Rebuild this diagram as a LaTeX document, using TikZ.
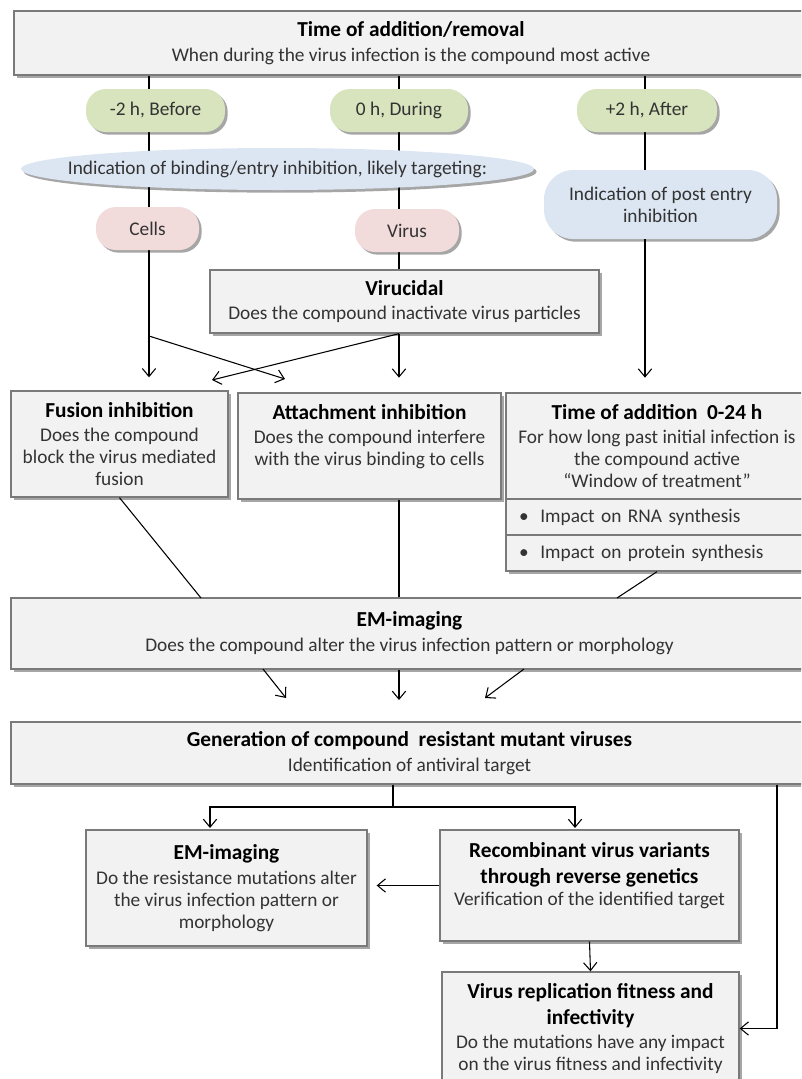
\documentclass[tikz,border=0pt]{standalone}
\usepackage{fontspec}
\setmainfont{Carlito}
\usetikzlibrary{shapes.geometric,shadows,arrows.meta,backgrounds}
\definecolor{boxfill}{HTML}{F2F2F2}
\definecolor{boxline}{HTML}{7A7A7A}
\definecolor{pillgreen}{HTML}{D7E4BD}
\definecolor{pillblue}{HTML}{DCE6F2}
\definecolor{pillred}{HTML}{F2DCDB}
\newcommand{\px}{0.75pt}
\newcommand{\ttl}[1]{{\fontsize{16}{18}\selectfont\bfseries\color{black}#1}}
\begin{document}
\begin{tikzpicture}[x=0.75pt, y=-0.75pt,
  every node/.style={font=\fontsize{14.5}{16.5}\selectfont, text=black!80, align=center, inner sep=0pt},
  shade box/.style={drop shadow={shadow xshift=2pt, shadow yshift=-2pt, opacity=.35, fill=black}},
  box/.style={rectangle, draw=boxline, fill=boxfill, line width=1pt, shade box},
  pill/.style={rectangle, rounded corners=15pt, minimum height=43*\px, shade box},
  link/.style={draw=black, line width=0.8pt},
  arr/.style={link, -{Straight Barb[length=6pt,width=10pt]}}]
\useasboundingbox (0,0) rectangle (801,1079);
\clip (0,0) rectangle (801,1079);
% time of addition
\node[box, minimum width=794*\px, minimum height=64*\px] (top) at (411,43) {\ttl{Time of addition/removal}\\[2pt] When during the virus infection is the compound most active};
\node[pill, fill=pillgreen, minimum width=139*\px] (before) at (155.5,110.5) {-2 h, Before};
\node[pill, fill=pillgreen, minimum width=138*\px] (during) at (399,110.5) {0 h, During};
\node[pill, fill=pillgreen, minimum width=140*\px] (after) at (647,110.5) {+2 h, After};
\node[ellipse, fill=pillblue, shade box, inner xsep=-30pt, minimum width=513*\px, minimum height=42*\px] (bind) at (277.5,169) {Indication of binding/entry inhibition, likely targeting:};
\node[pill, fill=pillblue, rounded corners=22pt, minimum width=233*\px, minimum height=69*\px] (post) at (660.5,204.5) {Indication of post entry\\inhibition};
\node[pill, fill=pillred, minimum width=103*\px] (cells) at (147.5,228.5) {Cells};
\node[pill, fill=pillred, minimum width=104*\px] (virus) at (407,230.5) {Virus};
\node[box, minimum width=389*\px, minimum height=63*\px] (virucidal) at (404.5,301.5) {\ttl{Virucidal}\\[2pt] Does the compound inactivate virus particles};
% mode of action
\node[box, minimum width=217*\px, minimum height=106*\px] (fusion) at (119.5,444) {\ttl{Fusion inhibition}\\[2pt] Does the compound\\block the virus mediated\\fusion};
\node[box, minimum width=263*\px, minimum height=106*\px] (attach) at (369.5,446) {\ttl{Attachment inhibition}\\[2pt] Does the compound interfere\\with the virus binding to cells\\ \mbox{}};
\node[box, minimum width=302*\px, minimum height=106*\px] (timeadd) at (657,446) {\ttl{Time of addition\ \ 0-24 h}\\[2pt] For how long past initial infection is\\the compound active\\``Window of treatment''};
\node[box, text width=207pt, inner xsep=9.75pt, minimum height=36*\px, align=left] (rna) at (657,517) {\makebox[16pt][l]{\textbullet}Impact on RNA synthesis};
\node[box, text width=207pt, inner xsep=9.75pt, minimum height=36*\px, align=left] (protein) at (657,553) {\makebox[16pt][l]{\textbullet}Impact on protein synthesis};
\node[box, minimum width=797*\px, minimum height=71*\px] (em) at (409.5,633.5) {\ttl{EM-imaging}\\[2pt] Does the compound alter the virus infection pattern or morphology};
% resistance
\node[box, minimum width=797*\px, minimum height=62*\px] (gen) at (409.5,753) {\ttl{Generation of compound\ \ resistant mutant viruses}\\[2pt] Identification of antiviral target};
\node[box, minimum width=281*\px, minimum height=116*\px] (emres) at (226.5,888) {\ttl{EM-imaging}\\[2pt] Do the resistance mutations alter\\the virus infection pattern or\\morphology};
\node[box, minimum width=299*\px, minimum height=111*\px] (recomb) at (589.5,885.5) {\ttl{Recombinant virus variants}\\[3pt] \ttl{through reverse genetics}\\Verification of the identified target\\ \mbox{}};
\node[box, minimum width=297*\px, minimum height=113*\px] (fitness) at (590.5,1028.5) {\ttl{Virus replication fitness and}\\[3pt] \ttl{infectivity}\\[1pt] Do the mutations have any impact\\on the virus fitness and infectivity};
% columns and free ends
\coordinate (cL) at (149,0);
\coordinate (cM) at (399,0);
\coordinate (cR) at (645,0);
\coordinate (cS) at (393,0);
\coordinate (cE) at (210,0);
\coordinate (cV) at (575,0);
\coordinate (cF) at (777,0);
\coordinate (fork) at (0,807);
\coordinate (splitL) at (149,336);
\coordinate (tipA) at (285,379);
\coordinate (tipB) at (212,380);
\coordinate (emA) at (201,598);
\coordinate (emC) at (617,598);
\coordinate (outA) at (263,669);
\coordinate (outC) at (524,669);
\coordinate (genA) at (286,698);
\coordinate (genB) at (399,700);
\coordinate (genC) at (485,698);
\begin{scope}[on background layer]
\draw[arr, shorten >=9.75pt] (top.south -| cL) -- (fusion.north -| cL);
\draw[link] (top.south -| cM) -- (virucidal.north -| cM);
\draw[link] (top.south -| cR) -- (post.north -| cR);
\end{scope}
\draw[arr] (splitL) -- (tipA);
\draw[arr] (virucidal.south -| cM) -- (tipB);
\draw[arr, shorten >=11pt] (virucidal.south -| cM) -- (attach.north -| cM);
\draw[arr, shorten >=11pt] (post.south -| cR) -- (timeadd.north -| cR);
\draw[link] (fusion.south) -- (emA);
\draw[link] (attach.south -| cM) -- (em.north -| cM);
\draw[link] (protein.south) -- (emC);
\draw[arr] (outA) -- (genA);
\draw[arr] (em.south -| cM) -- (genB);
\draw[arr] (outC) -- (genC);
\draw[arr, shorten >=1pt] (gen.south -| cS) |- (fork -| cE) -- (emres.north -| cE);
\draw[arr, shorten >=1pt] (gen.south -| cS) |- (fork -| cV) -- (recomb.north -| cV);
\draw[arr] (gen.south -| cF) |- (fitness.east);
\draw[arr, shorten >=6.75pt] (recomb.west) -- (recomb.west -| emres.east);
\draw[arr] (recomb.south) -- (fitness.north);
\end{tikzpicture}
\end{document}
